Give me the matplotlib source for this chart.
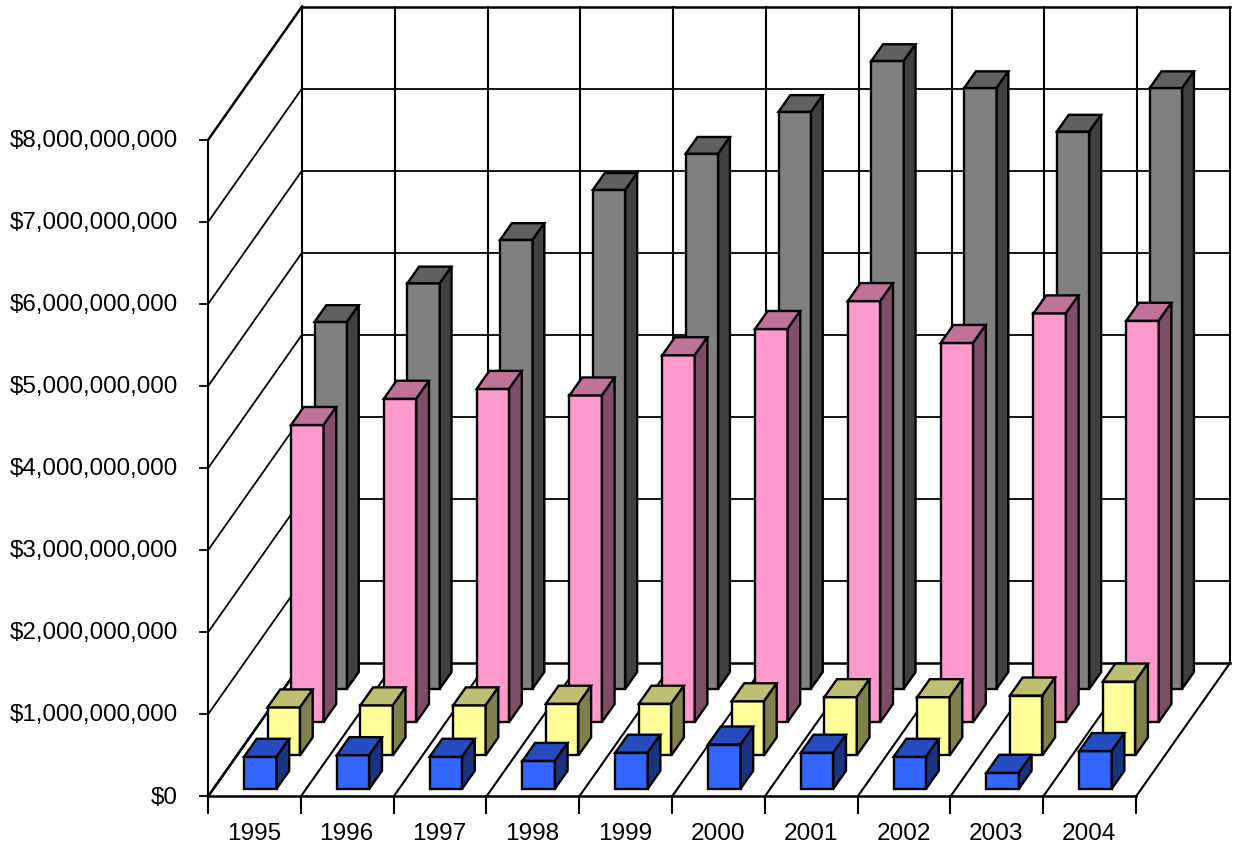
import matplotlib
matplotlib.use("Agg")
import matplotlib.pyplot as plt
from matplotlib.patches import Polygon

plt.rcParams['font.family'] = ['Liberation Sans', 'DejaVu Sans']

years = ["1995", "1996", "1997", "1998", "1999", "2000", "2001", "2002", "2003", "2004"]
blue_vals = [0.39e9, 0.41e9, 0.39e9, 0.34e9, 0.44e9, 0.54e9, 0.44e9, 0.39e9, 0.195e9, 0.46e9]
yellow_vals = [0.585e9, 0.61e9, 0.61e9, 0.63e9, 0.63e9, 0.66e9, 0.71e9, 0.71e9, 0.73e9, 0.90e9]
pink_vals = [3.62e9, 3.94e9, 4.06e9, 3.98e9, 4.47e9, 4.79e9, 5.13e9, 4.62e9, 4.98e9, 4.89e9]
gray_vals = [4.47e9, 4.94e9, 5.47e9, 6.08e9, 6.52e9, 7.03e9, 7.65e9, 7.32e9, 6.79e9, 7.32e9]
y_ticks = [0, 1e9, 2e9, 3e9, 4e9, 5e9, 6e9, 7e9, 8e9]

# values, front, top and side colours, bar depth, drawn back row first
series = [
    (gray_vals, "#808080", "#606060", "#404040", 0.125),
    (pink_vals, "#FF99CC", "#BF7399", "#804D66", 0.135),
    (yellow_vals, "#FFFF99", "#BFBF73", "#80804D", 0.135),
    (blue_vals, "#3366FF", "#264DBF", "#1A3380", 0.135),
]

# oblique projection: category, depth (0-1) and value to canvas position
X0, Y0 = 208.0, 796.5
CAT_W = 92.8
DEPTH_X, DEPTH_Y = 94.0, 133.5
PER_DOLLAR = 82.06 / 1e9


def project(cat, depth, value):
    return (X0 + cat * CAT_W + depth * DEPTH_X,
            Y0 - depth * DEPTH_Y - value * PER_DOLLAR)


def line(ax, a, b, lw=1.3):
    ax.plot([a[0], b[0]], [a[1], b[1]], color="black", lw=lw,
            solid_capstyle="projecting", zorder=2)


fig = plt.figure(figsize=(12.35, 8.46), dpi=100)
ax = fig.add_axes([0, 0, 1, 1])
ax.set_xlim(0, 1235)
ax.set_ylim(846, 0)
ax.axis("off")

n = len(years)
top = y_ticks[-1]

# walls and floor
for v in y_ticks:
    lw = 1.8 if v in (0, top) else 1.3
    line(ax, project(0, 1, v), project(n, 1, v), lw)
    line(ax, project(0, 0, v), project(0, 1, v), lw)
    tick = project(0, 0, v)
    line(ax, tick, (tick[0] - 8, tick[1]))
    ax.text(178, tick[1] + 1, f"${v:,.0f}", fontsize=17.4, ha="right", va="center",
            color="black")

for i in range(n + 1):
    line(ax, project(i, 1, 0), project(i, 1, top), 1.5)
    line(ax, project(i, 0, 0), project(i, 1, 0), 1.5)
    tick = project(i, 0, 0)
    line(ax, tick, (tick[0], tick[1] + 17), 1.5)
line(ax, project(0, 0, 0), project(0, 0, top), 1.5)
line(ax, project(0, 0, 0), project(n, 0, 0), 1.8)

for i, year in enumerate(years):
    x, y = project(i + 0.5, 0, 0)
    ax.text(x - 0.5, 834, year, fontsize=17.6, ha="center", va="center", color="black")

# bars
ROW = 0.25
BAR_GAP = 0.0575
BAR_W = 0.35
BAR_X = 0.33
for row, (vals, front, lid, side, bar_d) in zip([3, 2, 1, 0], series):
    d0 = row * ROW + BAR_GAP
    d1 = d0 + bar_d
    for i, v in enumerate(vals):
        c0 = i + BAR_X
        c1 = c0 + BAR_W
        faces = [
            ([project(c0, d0, 0), project(c1, d0, 0), project(c1, d0, v), project(c0, d0, v)], front),
            ([project(c0, d0, v), project(c1, d0, v), project(c1, d1, v), project(c0, d1, v)], lid),
            ([project(c1, d0, 0), project(c1, d1, 0), project(c1, d1, v), project(c1, d0, v)], side),
        ]
        for pts, color in faces:
            ax.add_patch(Polygon(pts, closed=True, facecolor=color, edgecolor="black",
                                 lw=1.7, joinstyle="miter", zorder=3))

fig.savefig("out.png", dpi=100)
